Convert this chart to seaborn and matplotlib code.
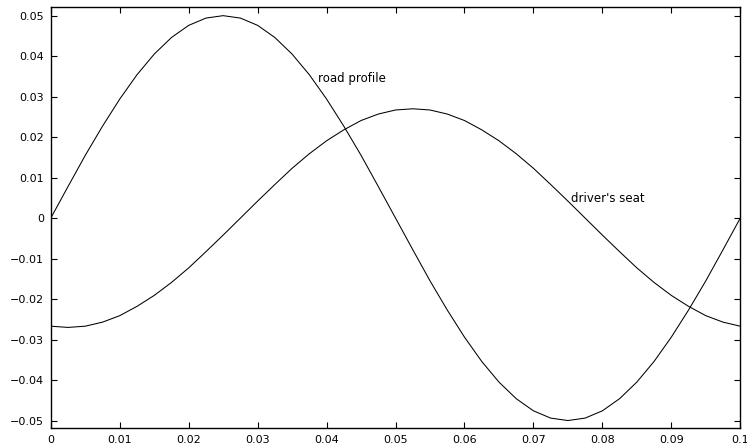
import matplotlib
matplotlib.use("Agg")
import matplotlib.pyplot as plt
import seaborn as sns
import pandas as pd
from matplotlib.ticker import FuncFormatter

# Time samples (s)
time = [0.0, 0.0025, 0.005, 0.0075, 0.01, 0.0125, 0.015, 0.0175, 0.02, 0.0225,
        0.025, 0.0275, 0.03, 0.0325, 0.035, 0.0375, 0.04, 0.0425, 0.045, 0.0475,
        0.05, 0.0525, 0.055, 0.0575, 0.06, 0.0625, 0.065, 0.0675, 0.07, 0.0725,
        0.075, 0.0775, 0.08, 0.0825, 0.085, 0.0875, 0.09, 0.0925, 0.095, 0.0975, 0.1]

road_profile = [0.0, 0.0078, 0.0155, 0.0227, 0.0294, 0.0354, 0.0405, 0.0446, 0.0476, 0.0494,
                0.0500, 0.0494, 0.0476, 0.0446, 0.0405, 0.0354, 0.0294, 0.0227, 0.0155, 0.0078,
                0.0, -0.0078, -0.0155, -0.0227, -0.0294, -0.0354, -0.0405, -0.0446, -0.0476, -0.0494,
                -0.0500, -0.0494, -0.0476, -0.0446, -0.0405, -0.0354, -0.0294, -0.0227, -0.0155, -0.0078, 0.0]

drivers_seat = [-0.0267, -0.0270, -0.0267, -0.0257, -0.0241, -0.0218, -0.0191, -0.0159, -0.0123, -0.0083,
                -0.0042, 0.0, 0.0042, 0.0083, 0.0123, 0.0159, 0.0191, 0.0218, 0.0241, 0.0257,
                0.0267, 0.0270, 0.0267, 0.0257, 0.0241, 0.0218, 0.0191, 0.0159, 0.0123, 0.0083,
                0.0042, 0.0, -0.0042, -0.0083, -0.0123, -0.0159, -0.0191, -0.0218, -0.0241, -0.0257, -0.0267]

x_ticks = [0, 0.01, 0.02, 0.03, 0.04, 0.05, 0.06, 0.07, 0.08, 0.09, 0.1]
y_ticks = [-0.05, -0.04, -0.03, -0.02, -0.01, 0, 0.01, 0.02, 0.03, 0.04, 0.05]

labels = ["road profile", "driver's seat"]

df = pd.DataFrame({
    "t": time * 2,
    "y": road_profile + drivers_seat,
    "series": [labels[0]] * len(time) + [labels[1]] * len(time),
})

sns.set_theme(style="white")
plt.rcParams["font.family"] = ["DejaVu Sans"]

fig = plt.figure(figsize=(7.47, 4.47), dpi=100)
ax = fig.add_axes([0.068, 0.042, 0.923, 0.942])

sns.lineplot(data=df, x="t", y="y", units="series", estimator=None, sort=False,
             color="black", linewidth=0.75, ax=ax, legend=False)

ax.set_xlim(0, 0.1)
ax.set_ylim(-0.0519, 0.0521)
ax.set_xticks(x_ticks)
ax.set_yticks(y_ticks)
fmt = FuncFormatter(lambda v, p: ("%g" % round(v, 4)).replace("-", "\u2212"))
ax.xaxis.set_major_formatter(fmt)
ax.yaxis.set_major_formatter(fmt)
ax.set_xlabel("")
ax.set_ylabel("")
ax.tick_params(direction="in", length=4.5, width=0.8, colors="black",
               labelsize=8, top=True, right=True, bottom=True, left=True)
ax.tick_params(axis="y", pad=5)
ax.tick_params(axis="x", pad=5)
for s in ax.spines.values():
    s.set_visible(True)
    s.set_color("black")
    s.set_linewidth(1.0)

ax.text(0.0387, 0.0335, labels[0], fontsize=8.5, color="black", ha="left", va="baseline")
ax.text(0.0755, 0.0039, labels[1], fontsize=8.5, color="black", ha="left", va="baseline")

fig.savefig("out.png", dpi=100)
